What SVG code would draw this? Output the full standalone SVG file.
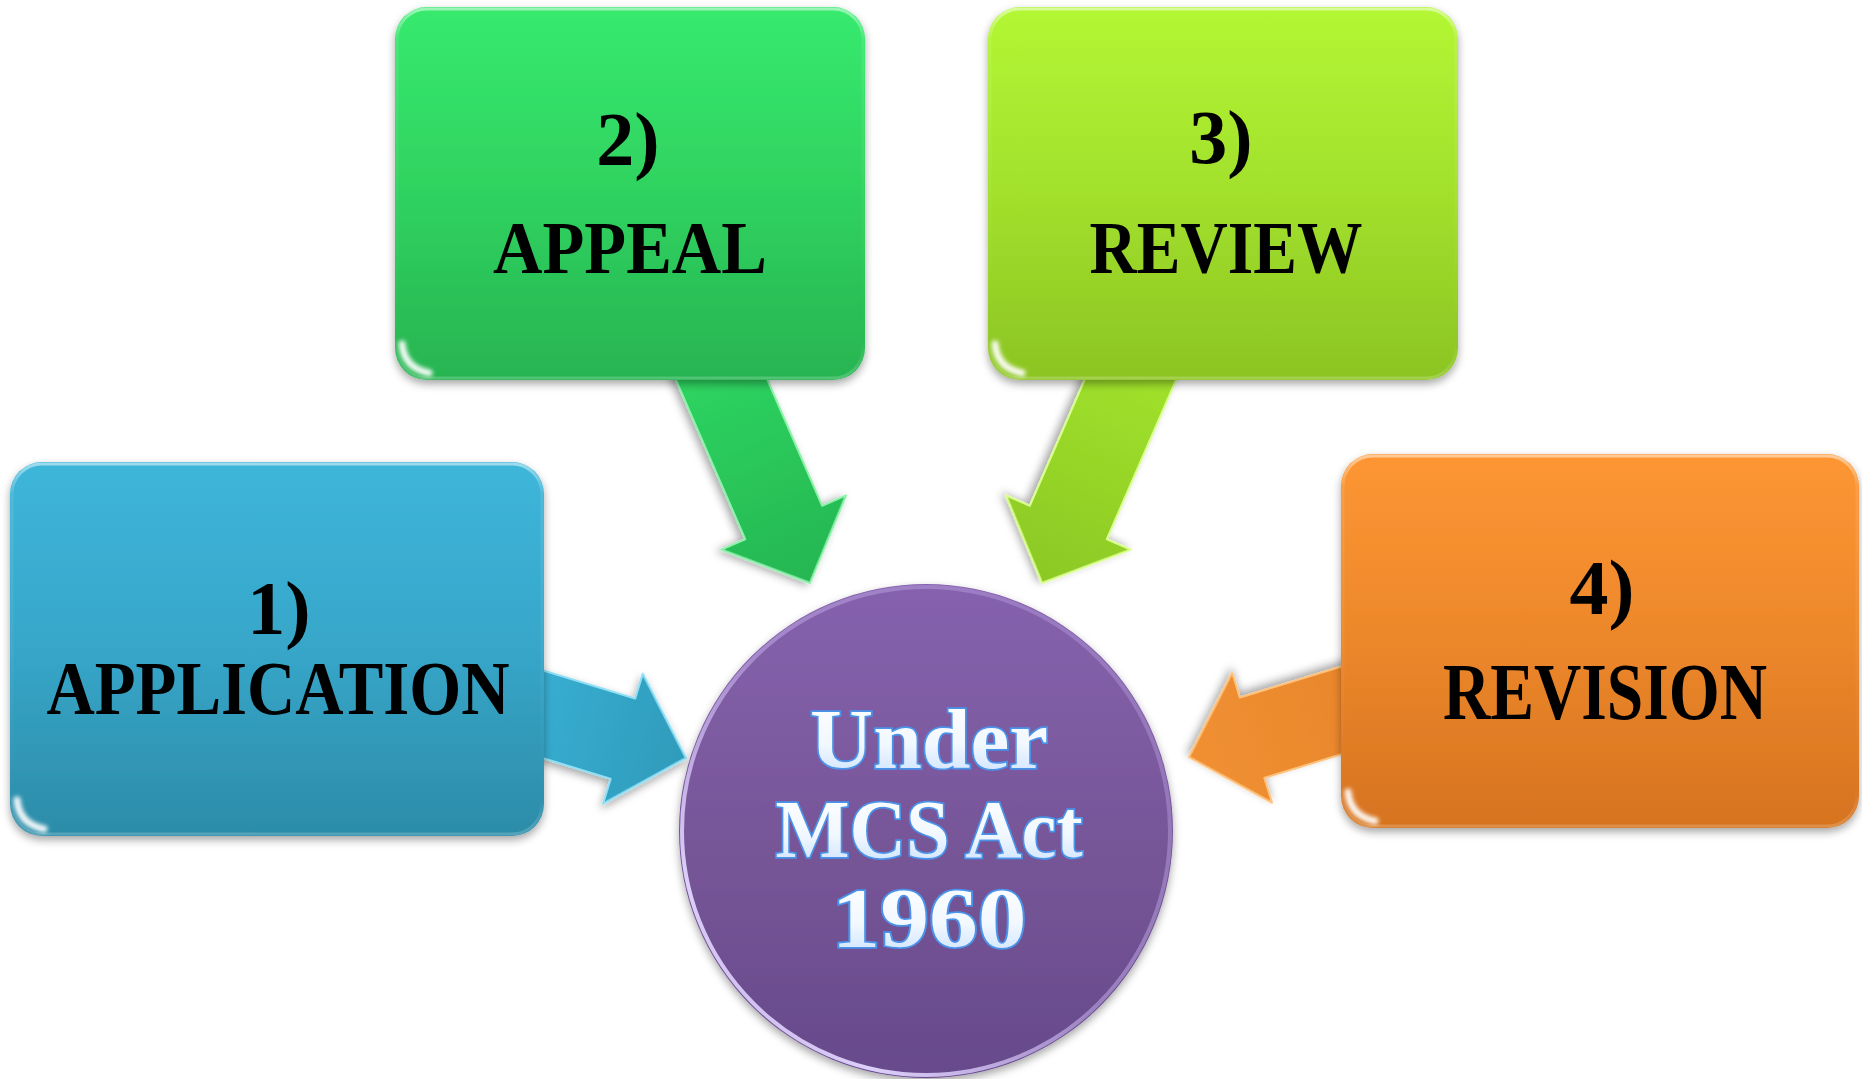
<svg xmlns="http://www.w3.org/2000/svg" width="1862" height="1079" viewBox="0 0 1862 1079">
<style>
  .lbl { font-family: "Liberation Serif", "Times New Roman", serif; font-weight: bold; fill: #000; text-anchor: middle; }
  .ctr { font-family: "Liberation Serif", "Times New Roman", serif; font-weight: bold; fill: url(#txtGrad); stroke: #4a93ea; stroke-width: 3.5; paint-order: stroke; text-anchor: middle; }
  .rim { fill: none; stroke: url(#rimGrad); stroke-width: 3; }
  .gloss { fill: none; stroke: #ffffff; stroke-width: 7; stroke-linecap: round; opacity: 0.95; filter: url(#soft); }
  .arrow-edge { stroke-width: 2; stroke-linejoin: round; }
</style>
<defs>
  <filter id="shadow" x="-10%" y="-10%" width="120%" height="125%">
    <feDropShadow dx="0" dy="4" stdDeviation="4" flood-color="#000" flood-opacity="0.35"/>
  </filter>
  <filter id="soft" x="-50%" y="-50%" width="200%" height="200%">
    <feGaussianBlur stdDeviation="2"/>
  </filter>
  <linearGradient id="gBlue" x1="0" y1="0" x2="0" y2="1">
    <stop offset="0" stop-color="#3db6da"/>
    <stop offset="0.5" stop-color="#37a6c9"/>
    <stop offset="1" stop-color="#2c8ca8"/>
  </linearGradient>
  <linearGradient id="gGreen" x1="0" y1="0" x2="0" y2="1">
    <stop offset="0" stop-color="#37ea6e"/>
    <stop offset="0.5" stop-color="#2fd260"/>
    <stop offset="1" stop-color="#28b451"/>
  </linearGradient>
  <linearGradient id="gLime" x1="0" y1="0" x2="0" y2="1">
    <stop offset="0" stop-color="#b3f734"/>
    <stop offset="0.5" stop-color="#a2e02c"/>
    <stop offset="1" stop-color="#8cc423"/>
  </linearGradient>
  <linearGradient id="gOrange" x1="0" y1="0" x2="0" y2="1">
    <stop offset="0" stop-color="#fd9633"/>
    <stop offset="0.5" stop-color="#ec872b"/>
    <stop offset="1" stop-color="#d6731f"/>
  </linearGradient>
  <linearGradient id="gPurple" x1="0" y1="0" x2="0" y2="1">
    <stop offset="0" stop-color="#8662ae"/>
    <stop offset="0.55" stop-color="#765597"/>
    <stop offset="1" stop-color="#664a8b"/>
  </linearGradient>
  <linearGradient id="circRim" x1="1" y1="0" x2="0" y2="1">
    <stop offset="0" stop-color="#b9a3e0" stop-opacity="0.3"/>
    <stop offset="0.5" stop-color="#c9b5f0" stop-opacity="0.5"/>
    <stop offset="0.8" stop-color="#e2d6ff" stop-opacity="0.95"/>
    <stop offset="1" stop-color="#cdbaf2" stop-opacity="0.8"/>
  </linearGradient>
  <linearGradient id="rimGrad" x1="0" y1="0" x2="0" y2="1">
    <stop offset="0" stop-color="#ffffff" stop-opacity="0.5"/>
    <stop offset="0.08" stop-color="#ffffff" stop-opacity="0.1"/>
    <stop offset="0.9" stop-color="#ffffff" stop-opacity="0"/>
    <stop offset="1" stop-color="#ffffff" stop-opacity="0.2"/>
  </linearGradient>
  <linearGradient id="txtGrad" x1="0" y1="0" x2="0" y2="1">
    <stop offset="0" stop-color="#ffffff"/>
    <stop offset="0.55" stop-color="#f2f8ff"/>
    <stop offset="1" stop-color="#c4ddff"/>
  </linearGradient>
  <linearGradient id="aBlue" x1="0" y1="0" x2="1" y2="0">
    <stop offset="0" stop-color="#3ab2d6"/>
    <stop offset="1" stop-color="#2f9bbb"/>
  </linearGradient>
  <linearGradient id="aGreen" x1="0" y1="0" x2="1" y2="0">
    <stop offset="0" stop-color="#2fd862"/>
    <stop offset="1" stop-color="#25b652"/>
  </linearGradient>
  <linearGradient id="aLime" x1="0" y1="0" x2="1" y2="0">
    <stop offset="0" stop-color="#a3e52c"/>
    <stop offset="1" stop-color="#8cc824"/>
  </linearGradient>
  <linearGradient id="aOrange" x1="0" y1="0" x2="1" y2="0">
    <stop offset="0" stop-color="#e8852b"/>
    <stop offset="1" stop-color="#f09032"/>
  </linearGradient>
</defs>

<rect x="0" y="0" width="1862" height="1079" fill="#ffffff"/>

<g id="connectors">
  <polygon transform="translate(686 758) rotate(17)" points="0,0 -66,-68 -66,-42 -200,-42 -200,42 -66,42 -66,68" fill="url(#aBlue)" stroke="#8fe0f5" class="arrow-edge" filter="url(#shadow)"/>
  <polygon transform="translate(810 583) rotate(66.5)" points="0,0 -66,-68 -66,-42 -270,-42 -270,42 -66,42 -66,68" fill="url(#aGreen)" stroke="#8ef2ad" class="arrow-edge" filter="url(#shadow)"/>
  <polygon transform="translate(1042 583) rotate(113.5)" points="0,0 -66,-68 -66,-42 -270,-42 -270,42 -66,42 -66,68" fill="url(#aLime)" stroke="#d9ff8a" class="arrow-edge" filter="url(#shadow)"/>
  <polygon transform="translate(1189 757) rotate(163)" points="0,0 -66,-68 -66,-42 -200,-42 -200,42 -66,42 -66,68" fill="url(#aOrange)" stroke="#ffc27a" class="arrow-edge" filter="url(#shadow)"/>
</g>

<g id="node-application">
  <rect x="10" y="462" width="534" height="374" rx="32" fill="url(#gBlue)" filter="url(#shadow)"/>
  <rect class="rim" x="12" y="464" width="530" height="370" rx="30"/>
  <path class="gloss" d="M17,800 Q19,824 44,829"/>
  <text class="lbl" x="279" y="634" font-size="76">1)</text>
  <text class="lbl" x="278" y="714" font-size="77" textLength="463" lengthAdjust="spacingAndGlyphs">APPLICATION</text>
</g>

<g id="node-appeal">
  <rect x="395" y="7" width="470" height="373" rx="32" fill="url(#gGreen)" filter="url(#shadow)"/>
  <rect class="rim" x="397" y="9" width="466" height="369" rx="30"/>
  <path class="gloss" d="M402,344 Q404,368 429,373"/>
  <text class="lbl" x="628" y="165" font-size="76">2)</text>
  <text class="lbl" x="630" y="273" font-size="75" textLength="274" lengthAdjust="spacingAndGlyphs">APPEAL</text>
</g>

<g id="node-review">
  <rect x="988" y="7" width="470" height="373" rx="32" fill="url(#gLime)" filter="url(#shadow)"/>
  <rect class="rim" x="990" y="9" width="466" height="369" rx="30"/>
  <path class="gloss" d="M995,344 Q997,368 1022,373"/>
  <text class="lbl" x="1221" y="163" font-size="76">3)</text>
  <text class="lbl" x="1226" y="273" font-size="75" textLength="273" lengthAdjust="spacingAndGlyphs">REVIEW</text>
</g>

<g id="node-revision">
  <rect x="1341" y="454" width="518" height="374" rx="32" fill="url(#gOrange)" filter="url(#shadow)"/>
  <rect class="rim" x="1343" y="456" width="514" height="370" rx="30"/>
  <path class="gloss" d="M1348,792 Q1350,816 1375,821"/>
  <text class="lbl" x="1602" y="614" font-size="78">4)</text>
  <text class="lbl" x="1605" y="719" font-size="80" textLength="324" lengthAdjust="spacingAndGlyphs">REVISION</text>
</g>

<g id="node-center">
  <circle cx="926" cy="831" r="247" fill="url(#gPurple)" filter="url(#shadow)"/>
  <circle cx="926" cy="831" r="244" fill="none" stroke="url(#circRim)" stroke-width="4"/>
  <text class="ctr" x="929" y="768" font-size="85" textLength="238" lengthAdjust="spacingAndGlyphs">Under</text>
  <text class="ctr" x="929" y="857" font-size="82" textLength="307" lengthAdjust="spacingAndGlyphs">MCS Act</text>
  <text class="ctr" x="929" y="947" font-size="84" textLength="195" lengthAdjust="spacingAndGlyphs">1960</text>
</g>
</svg>
